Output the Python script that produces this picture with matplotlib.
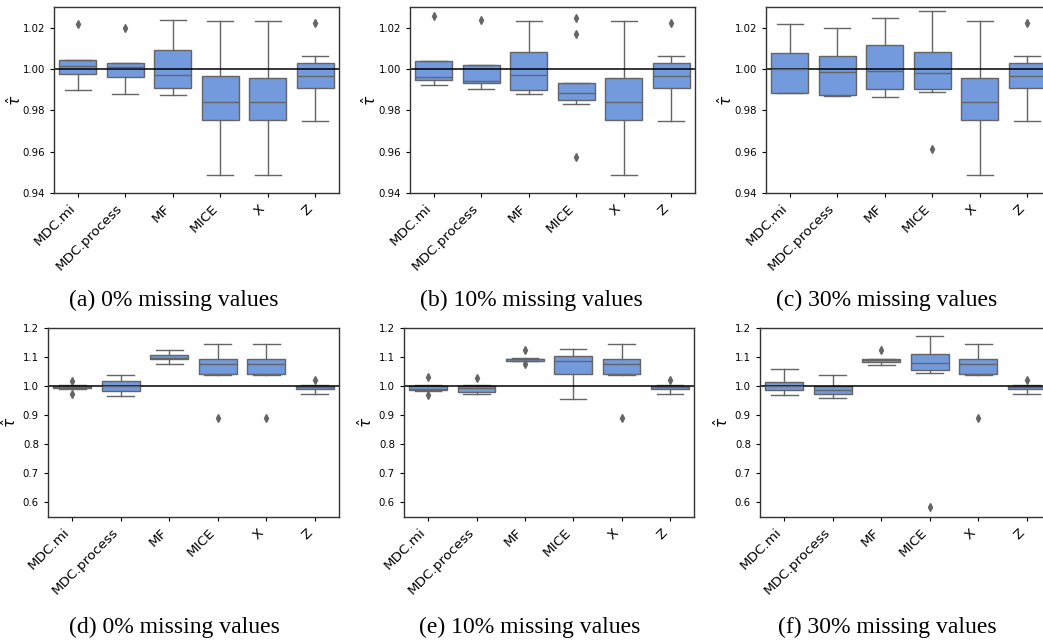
import matplotlib
matplotlib.use("Agg")
import matplotlib.pyplot as plt

# categories shared by all six panels
methods = ["MDC.mi", "MDC.process", "MF", "MICE", "X", "Z"]
captions = ["(a) 0% missing values", "(b) 10% missing values", "(c) 30% missing values",
            "(d) 0% missing values", "(e) 10% missing values", "(f) 30% missing values"]

# box statistics (whisker low, q1, median, q3, whisker high, outliers)
a_lo = [0.9896, 0.9880, 0.9872, 0.9486, 0.9486, 0.9747]
a_q1 = [0.9977, 0.9963, 0.9908, 0.9755, 0.9755, 0.9908]
a_med = [1.0015, 1.0010, 0.9969, 0.9841, 0.9841, 0.9968]
a_q3 = [1.0044, 1.0031, 1.0094, 0.9966, 0.9955, 1.0031]
a_hi = [1.0044, 1.0031, 1.0238, 1.0234, 1.0234, 1.0062]
a_out = [[1.0220], [1.0198], [], [], [], [1.0224]]

b_lo = [0.9922, 0.9904, 0.9877, 0.9833, 0.9486, 0.9747]
b_q1 = [0.9948, 0.9933, 0.9898, 0.9849, 0.9755, 0.9908]
b_med = [0.9963, 0.9943, 0.9971, 0.9883, 0.9841, 0.9968]
b_q3 = [1.0037, 1.0018, 1.0084, 0.9932, 0.9955, 1.0031]
b_hi = [1.0040, 1.0020, 1.0234, 0.9932, 1.0234, 1.0062]
b_out = [[1.0258], [1.0238], [], [1.0245, 1.0169, 0.9573], [], [1.0224]]

c_lo = [0.9883, 0.9870, 0.9865, 0.9891, 0.9486, 0.9747]
c_q1 = [0.9886, 0.9872, 0.9904, 0.9904, 0.9755, 0.9908]
c_med = [1.0000, 0.9987, 0.9989, 0.9981, 0.9841, 0.9968]
c_q3 = [1.0079, 1.0063, 1.0118, 1.0081, 0.9955, 1.0031]
c_hi = [1.0219, 1.0198, 1.0247, 1.0281, 1.0234, 1.0062]
c_out = [[], [], [], [0.9612], [], [1.0224]]

d_lo = [0.990, 0.967, 1.075, 1.040, 1.040, 0.972]
d_q1 = [0.992, 0.982, 1.092, 1.043, 1.043, 0.990]
d_med = [0.9966, 0.999, 1.098, 1.075, 1.075, 0.9966]
d_q3 = [1.001, 1.018, 1.106, 1.094, 1.094, 1.002]
d_hi = [1.003, 1.038, 1.125, 1.146, 1.146, 1.005]
d_out = [[1.017, 0.972], [], [], [0.891], [0.891], [1.021]]

e_lo = [0.985, 0.972, 1.085, 0.956, 1.040, 0.972]
e_q1 = [0.986, 0.980, 1.087, 1.043, 1.043, 0.990]
e_med = [0.990, 0.992, 1.092, 1.086, 1.075, 0.9966]
e_q3 = [1.001, 1.002, 1.095, 1.105, 1.094, 1.002]
e_hi = [1.003, 1.005, 1.098, 1.128, 1.146, 1.005]
e_out = [[1.033, 0.969], [1.029], [1.123, 1.077], [], [0.891], [1.021]]

f_lo = [0.971, 0.960, 1.072, 1.046, 1.040, 0.972]
f_q1 = [0.987, 0.972, 1.084, 1.057, 1.043, 0.990]
f_med = [1.000, 0.987, 1.090, 1.078, 1.075, 0.9966]
f_q3 = [1.016, 1.002, 1.094, 1.109, 1.094, 1.002]
f_hi = [1.060, 1.037, 1.095, 1.171, 1.146, 1.005]
f_out = [[], [], [1.124], [0.583], [0.891], [1.021]]

top_ticks = [0.94, 0.96, 0.98, 1.00, 1.02]
bottom_ticks = [0.6, 0.7, 0.8, 0.9, 1.0, 1.1, 1.2]

panels = [
    (a_lo, a_q1, a_med, a_q3, a_hi, a_out),
    (b_lo, b_q1, b_med, b_q3, b_hi, b_out),
    (c_lo, c_q1, c_med, c_q3, c_hi, c_out),
    (d_lo, d_q1, d_med, d_q3, d_hi, d_out),
    (e_lo, e_q1, e_med, e_q3, e_hi, e_out),
    (f_lo, f_q1, f_med, f_q3, f_hi, f_out),
]

W, H = 1043, 644
fig = plt.figure(figsize=(W / 100, H / 100), dpi=100)

# axes boxes in pixels: left, right, top, bottom (the right column runs past the edge)
boxes = [(54, 339, 7, 193), (410, 695, 7, 193), (766, 1051, 7, 193),
         (48, 339, 328, 517), (404, 694, 328, 517), (760, 1051, 328, 517)]
# distance of the tau label from the left spine, in pixels
label_gap = [39, 40, 40, 38, 38, 38]
caption_x = [174, 531, 887, 174, 530, 887]
caption_y = [306, 306, 306, 633, 633, 633]

fill = "#729adc"
gray = "#656565"

for i, (lo, q1, med, q3, hi, out) in enumerate(panels):
    l, r, t, b = boxes[i]
    ax = fig.add_axes([l / W, 1 - b / H, (r - l) / W, (b - t) / H])
    stats = []
    for j, name in enumerate(methods):
        stats.append(dict(label=name, whislo=lo[j], q1=q1[j], med=med[j],
                          q3=q3[j], whishi=hi[j], fliers=out[j]))
    ax.bxp(stats, positions=range(len(methods)), widths=0.78, capwidths=0.55,
           patch_artist=True, showfliers=True,
           boxprops=dict(facecolor=fill, edgecolor=gray, linewidth=1.0),
           medianprops=dict(color=gray, linewidth=1.0),
           whiskerprops=dict(color=gray, linewidth=1.0),
           capprops=dict(color=gray, linewidth=1.0),
           flierprops=dict(marker="d", markersize=4, markerfacecolor=gray,
                           markeredgecolor=gray))
    ax.axhline(1.0, color="black", linewidth=1.1)
    ax.set_xlim(-0.5, len(methods) - 0.5)
    if i < 3:
        ax.set_ylim(0.94, 1.03)
        ax.set_yticks(top_ticks)
        ax.set_yticklabels([f"{v:.2f}" for v in top_ticks])
    else:
        ax.set_ylim(0.55, 1.2)
        ax.set_yticks(bottom_ticks)
        ax.set_yticklabels([f"{v:.1f}" for v in bottom_ticks])
    ax.tick_params(axis="y", labelsize=7.3, length=3)
    ax.tick_params(axis="x", labelsize=9.7, length=3)
    ax.set_xticks(range(len(methods)))
    ax.set_xticklabels(methods, rotation=45, ha="right", rotation_mode="default")
    ax.set_ylabel(r"$\hat{\tau}$", fontsize=11)
    lab = ax.yaxis.label
    lab.set_va("center")
    lab.set_ha("center")
    ax.yaxis.set_label_coords(-label_gap[i] / (r - l), 0.5)
    for s in ax.spines.values():
        s.set_linewidth(1.0)
        s.set_color("#333333")
    fig.text(caption_x[i] / W, 1 - caption_y[i] / H, captions[i],
             family="Liberation Serif", fontsize=17, ha="center", va="baseline")

fig.savefig("out.png", dpi=100)
